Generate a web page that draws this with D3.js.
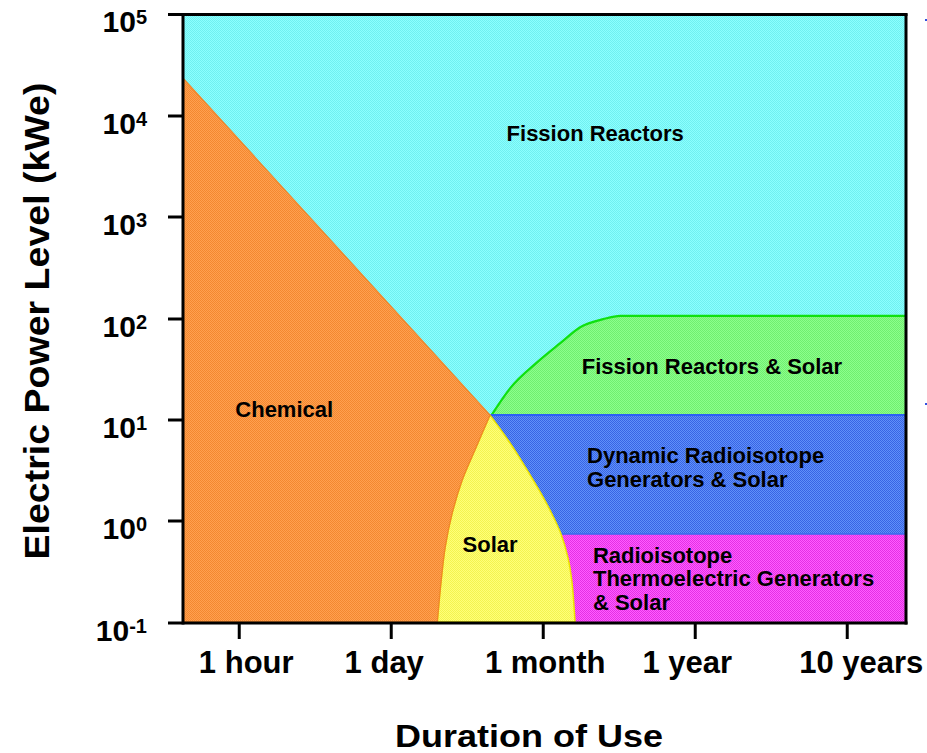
<!DOCTYPE html>
<html>
<head>
<meta charset="utf-8">
<script src="https://cdn.jsdelivr.net/npm/d3@7"></script>
<style>
  html, body { margin: 0; padding: 0; background: #ffffff; }
  svg { display: block; }
  text { font-family: "Liberation Sans", Arial, Helvetica, sans-serif; font-weight: bold; fill: #000; }
</style>
</head>
<body>
<svg id="chart" width="927" height="753"></svg>
<script>
// ---------------- DATA ----------------
// x values are positions on the duration axis (0 = 1 hour, 1 = 1 day, 2 = 1 month, 3 = 1 year, 4 = 10 years)
// y values are electric power levels in kWe
const durationTicks = [0, 1, 2, 3, 4];
const durationLabels = ["1 hour", "1 day", "1 month", "1 year", "10 years"];
const powerTicks = [0.1, 1, 10, 100, 1000, 10000, 100000];
const powerExponents = ["-1", "0", "1", "2", "3", "4", "5"];
const xExtent = [-0.37, 4.38];
const yExtent = [0.1, 100000];

// Chemical: straight upper boundary from the left edge down to the apex
const chemicalTop = [[-0.37, 23700], [1.650, 11.1]];
// Solar region boundaries (from apex down to the bottom)
const solarLeft = [[1.650, 11.1], [1.559, 5.36], [1.467, 2.53], [1.401, 1.19], [1.355, 0.55], [1.329, 0.26], [1.303, 0.1]];
const solarRight = [[1.650, 11.1], [1.768, 6.30], [1.874, 3.56], [1.972, 2.02], [2.051, 1.22], [2.117, 0.741], [2.163, 0.429], [2.189, 0.248], [2.209, 0.1]];
// Fission Reactors & Solar: upper boundary
const fissionSolarTop = [[1.660, 11.1], [1.783, 20.5], [1.961, 37], [2.112, 57], [2.243, 82], [2.395, 98.6], [2.507, 106], [4.38, 106]];
// Horizontal levels
const dynamicTop = 11.1;      // top of Dynamic Radioisotope band
const rtgTop = 0.741;         // top of RTG band
const apexX = 1.650;

const regionLabels = [
  { lines: ["Fission Reactors"], x: 2.342, y: 5660, anchor: "middle" },
  { lines: ["Chemical"], x: 0.296, y: 10.6, anchor: "middle" },
  { lines: ["Fission Reactors & Solar"], x: 3.11, y: 28.2, anchor: "middle" },
  { lines: ["Dynamic Radioisotope", "Generators & Solar"], x: 2.288, y: 3.7, anchor: "start" },
  { lines: ["Solar"], x: 1.65, y: 0.49, anchor: "middle" },
  { lines: ["Radioisotope", "Thermoelectric Generators", "& Solar"], x: 2.327, y: 0.383, anchor: "start" }
];

// ---------------- LAYOUT ----------------
const L = 183, R = 905, T = 15, B = 622;
const labelNudge = [7, -7, 2, -8, 14];   // horizontal pixel nudges of the duration labels
const lineHeight = 23.5;

// ---------------- DRAWING ----------------
const svg = d3.select("#chart");
const x = d3.scaleLinear().domain(xExtent).range([L, R]);
const y = d3.scaleLog().domain(yExtent).range([B, T]);

// textured fills
const defs = svg.append("defs");
function pattern(id, c1, c2) {
  const p = defs.append("pattern").attr("id", id).attr("patternUnits", "userSpaceOnUse")
    .attr("width", 2).attr("height", 2);
  p.append("rect").attr("width", 2).attr("height", 2).attr("fill", c1);
  p.append("rect").attr("x", 0).attr("y", 0).attr("width", 1).attr("height", 1).attr("fill", c2);
  p.append("rect").attr("x", 1).attr("y", 1).attr("width", 1).attr("height", 1).attr("fill", c2);
  return `url(#${id})`;
}
const fCyan = pattern("pCyan", "#8cffff", "#70f0f0");
const fOrange = pattern("pOrange", "#ffa050", "#f38830");
const fYellow = pattern("pYellow", "#ffff78", "#f3f350");
const fGreen = pattern("pGreen", "#8cff8c", "#70ee70");
const fBlue = pattern("pBlue", "#6090fa", "#3864e4");
const fMagenta = pattern("pMagenta", "#ff5cff", "#e430e4");

const px = d => [x(d[0]), y(d[1])];
const lineGen = curve => d3.line().x(d => x(d[0])).y(d => y(d[1])).curve(curve);
const solarCurve = pts => lineGen(d3.curveCatmullRom.alpha(0.5))(pts);
const greenCurve = pts => lineGen(d3.curveMonotoneX)(pts);
const toL = s => s.replace(/^M/, "L");

const xMin = xExtent[0], xMax = xExtent[1];

// Fission reactors background
svg.append("rect").attr("x", x(xMin)).attr("y", y(yExtent[1]))
  .attr("width", x(xMax) - x(xMin)).attr("height", y(yExtent[0]) - y(yExtent[1]))
  .attr("fill", fCyan);

// Fission reactors & solar
{
  const top = greenCurve(fissionSolarTop);
  const d = top + `L${px([xMax, dynamicTop])}L${px([fissionSolarTop[0][0], dynamicTop])}Z`;
  svg.append("path").attr("d", d).attr("fill", fGreen);
  svg.append("path").attr("d", top).attr("fill", "none")
    .attr("stroke", "#10e010").attr("stroke-width", 2.2);
}

// Dynamic radioisotope band
svg.append("rect").attr("x", x(apexX)).attr("y", y(dynamicTop))
  .attr("width", x(xMax) - x(apexX)).attr("height", y(rtgTop) - y(dynamicTop))
  .attr("fill", fBlue);
svg.append("line").attr("x1", x(apexX)).attr("x2", x(xMax)).attr("y1", y(dynamicTop)).attr("y2", y(dynamicTop))
  .attr("stroke", "#2b62f5").attr("stroke-width", 2);

// RTG band
svg.append("rect").attr("x", x(2.0)).attr("y", y(rtgTop))
  .attr("width", x(xMax) - x(2.0)).attr("height", y(yExtent[0]) - y(rtgTop))
  .attr("fill", fMagenta);
svg.append("line").attr("x1", x(2.0)).attr("x2", x(xMax)).attr("y1", y(rtgTop)).attr("y2", y(rtgTop))
  .attr("stroke", "#3a6aee").attr("stroke-width", 1.5);

// Solar
{
  const rightRev = solarRight.slice().reverse();
  const d = solarCurve(solarLeft) + toL(solarCurve(rightRev)) + "Z";
  svg.append("path").attr("d", d).attr("fill", fYellow).attr("stroke", "#ece400").attr("stroke-width", 1.5);
}

// Chemical
{
  const d = `M${px([xMin, yExtent[0]])}L${px(chemicalTop[0])}L${px(chemicalTop[1])}` +
    toL(solarCurve(solarLeft)) + "Z";
  svg.append("path").attr("d", d).attr("fill", fOrange).attr("stroke", "#f0862a").attr("stroke-width", 1.3);
}

// Frame
const frame = svg.append("g").attr("stroke", "#000").attr("stroke-width", 3).attr("fill", "none");
frame.append("line").attr("x1", L).attr("x2", L).attr("y1", T - 1.5).attr("y2", B + 2.5);
frame.append("line").attr("x1", R + 1).attr("x2", R + 1).attr("y1", T - 1.5).attr("y2", B + 2.5);
frame.append("line").attr("x1", L).attr("x2", R + 2.5).attr("y1", T - 0.5).attr("y2", T - 0.5);
frame.append("line").attr("x1", L).attr("x2", R + 2.5).attr("y1", B + 1).attr("y2", B + 1);

// Y axis ticks and labels
powerTicks.forEach((v, i) => {
  const yy = Math.round(y(v)) + (i === 0 ? 1 : (i === powerTicks.length - 1 ? -0.5 : 0));
  svg.append("line").attr("x1", 168).attr("x2", L).attr("y1", yy).attr("y2", yy)
    .attr("stroke", "#000").attr("stroke-width", 3);
  const t = svg.append("text").attr("x", 147).attr("y", yy + 17.5).attr("text-anchor", "end");
  t.append("tspan").attr("font-size", 30).text("10");
  t.append("tspan").attr("font-size", 20).attr("dy", -8).text(powerExponents[i]);
});

// X axis ticks and labels
durationTicks.forEach((v, i) => {
  const xx = x(v);
  svg.append("line").attr("x1", xx).attr("x2", xx).attr("y1", B + 2).attr("y2", B + 17)
    .attr("stroke", "#000").attr("stroke-width", 3);
  svg.append("text").attr("x", xx + labelNudge[i]).attr("y", 673).attr("text-anchor", "middle")
    .attr("font-size", 31).text(durationLabels[i]);
});

// Axis titles
svg.append("text").attr("x", 529).attr("y", 747).attr("text-anchor", "middle")
  .attr("font-size", 32).attr("textLength", 268).attr("lengthAdjust", "spacingAndGlyphs")
  .text("Duration of Use");
svg.append("text").attr("transform", "translate(49,321) rotate(-90)").attr("text-anchor", "middle")
  .attr("font-size", 35).attr("textLength", 477).attr("lengthAdjust", "spacingAndGlyphs")
  .text("Electric Power Level (kWe)");

// Region labels
regionLabels.forEach(r => {
  const t = svg.append("text").attr("text-anchor", r.anchor).attr("font-size", 22);
  r.lines.forEach((s, j) => {
    t.append("tspan").attr("x", x(r.x)).attr("y", y(r.y) + j * lineHeight).text(s);
  });
});

// small marks at the right margin
svg.append("rect").attr("x", 925).attr("y", 19).attr("width", 2).attr("height", 2).attr("fill", "#3050e0");
svg.append("rect").attr("x", 925).attr("y", 403).attr("width", 2).attr("height", 2).attr("fill", "#3050e0");
</script>
</body>
</html>
